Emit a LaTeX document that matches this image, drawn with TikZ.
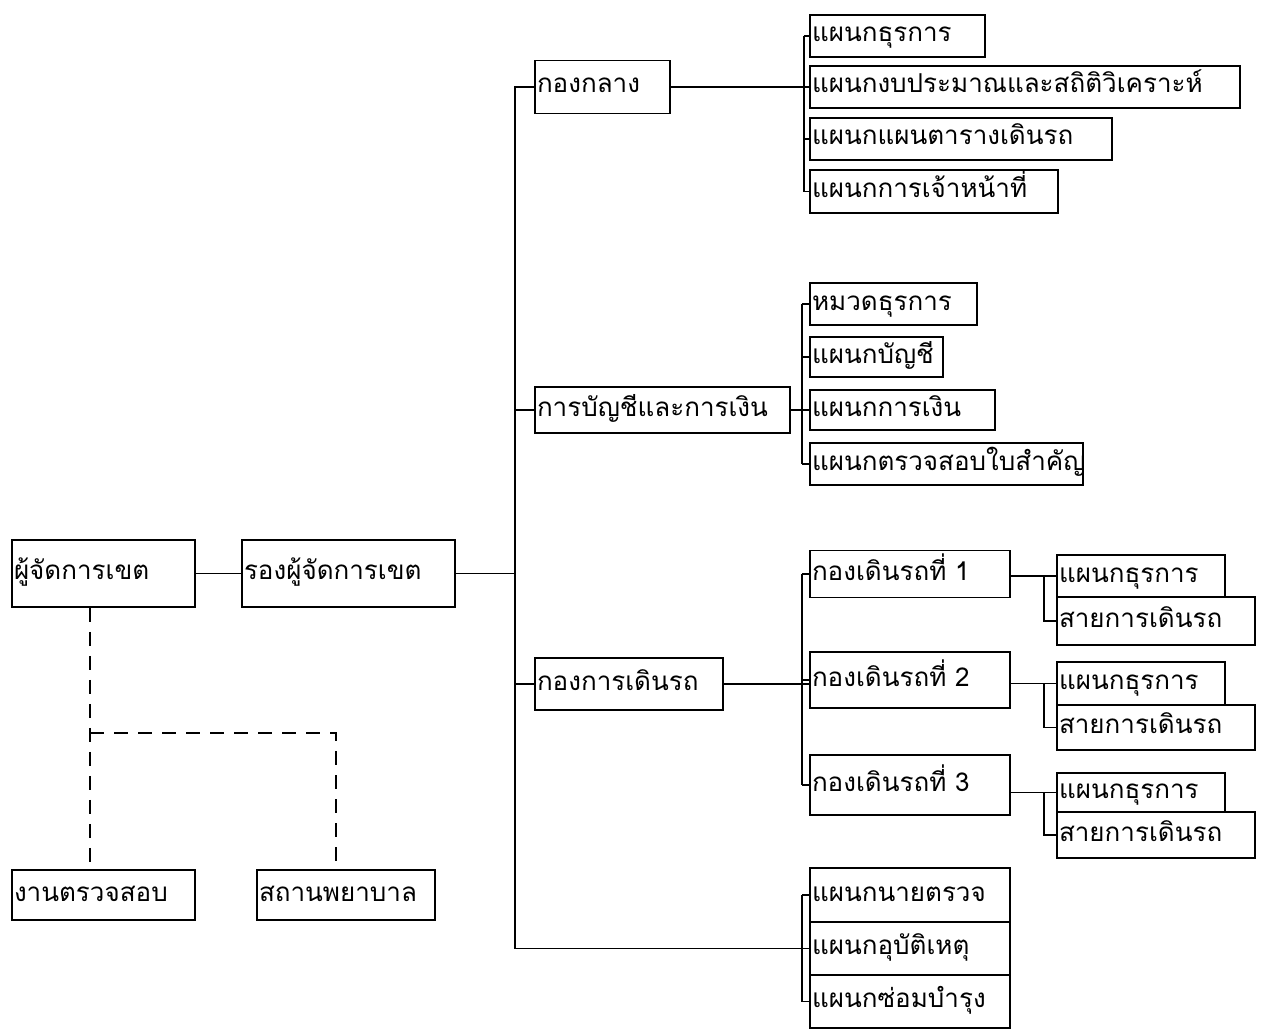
\documentclass[tikz,border=0pt]{standalone}
\usepackage{fontspec}
\newfontfamily\thaifont[Script=Thai]{Loma}
\begin{document}
\begin{tikzpicture}[x=1pt,y=-1pt,
		box/.style={draw, line width=1.6pt, inner xsep=2pt, inner ysep=0pt, align=left, text height=18pt, text depth=6pt, font=\thaifont\fontsize{26}{30}\selectfont},
		link/.style={line width=1.6pt},
		dashlink/.style={line width=1.6pt, dash pattern=on 14pt off 10pt}]
				\useasboundingbox (0,0) rectangle (1269,1030);
				
				\node[box, text width=179pt, minimum height=67pt] (mgr) at (103.5,573.5) {ผู้จัดการเขต};
				\node[box, text width=209pt, minimum height=67pt] (dep) at (348.5,573.5) {รองผู้จัดการเขต};
				\node[box, text width=179pt, minimum height=50pt] (audit) at (103.5,895) {งานตรวจสอบ};
				\node[box, text width=174pt, minimum height=50pt] (clinic) at (346,895) {สถานพยาบาล};
				
				\node[box, text width=131pt, minimum height=53pt] (central) at (602.5,87) {กองกลาง};
				\node[box, text width=171pt, minimum height=42pt] (c1) at (897.5,36) {แผนกธุรการ};
				\node[box, text width=426pt, minimum height=42pt] (c2) at (1025,87) {แผนกงบประมาณและสถิติวิเคราะห์};
				\node[box, text width=298pt, minimum height=42pt] (c3) at (961,139) {แผนกแผนตารางเดินรถ};
				\node[box, text width=244pt, minimum height=43pt] (c4) at (934,191.5) {แผนกการเจ้าหน้าที่};
				
				\node[box, text width=251pt, minimum height=46pt] (acct) at (662.5,410) {การบัญชีและการเงิน};
				\node[box, text width=163pt, minimum height=42pt] (a1) at (893.5,304) {หมวดธุรการ};
				\node[box, text width=129pt, minimum height=40pt] (a2) at (876.5,357) {แผนกบัญชี};
				\node[box, text width=181pt, minimum height=40pt] (a3) at (902.5,410) {แผนกการเงิน};
				\node[box, text width=269pt, minimum height=42pt] (a4) at (946.5,464) {แผนกตรวจสอบใบสำคัญ};
				
				\node[box, text width=184pt, minimum height=52pt] (ops) at (629,684) {กองการเดินรถ};
				\node[box, text width=196pt, minimum height=47pt] (o1) at (910,574) {กองเดินรถที่ 1};
				\node[box, text width=196pt, minimum height=56pt] (o2) at (910,680) {กองเดินรถที่ 2};
				\node[box, text width=196pt, minimum height=60pt] (o3) at (910,785) {กองเดินรถที่ 3};
				
				\node[box, text width=164pt, minimum height=42pt] (s11) at (1141,576) {แผนกธุรการ};
				\node[box, text width=194pt, minimum height=48pt] (s12) at (1156,621) {สายการเดินรถ};
				\node[box, text width=164pt, minimum height=43pt] (s21) at (1141,683.5) {แผนกธุรการ};
				\node[box, text width=194pt, minimum height=45pt] (s22) at (1156,727.5) {สายการเดินรถ};
				\node[box, text width=164pt, minimum height=39pt] (s31) at (1141,792.5) {แผนกธุรการ};
				\node[box, text width=194pt, minimum height=46pt] (s32) at (1156,835) {สายการเดินรถ};
				
				\node[box, text width=196pt, minimum height=54pt] (f1) at (910,895) {แผนกนายตรวจ};
				\node[box, text width=196pt, minimum height=53pt] (f2) at (910,948.5) {แผนกอุบัติเหตุ};
				\node[box, text width=196pt, minimum height=53pt] (f3) at (910,1001.5) {แผนกซ่อมบำรุง};
				
				\coordinate (hub) at (515,573.5);
				\draw[link] (mgr.east) -- (dep.west);
				\draw[link] (dep.east) -- (hub);
				\draw[link] (central.west) -| (hub) |- (f2.west);
				\draw[link] (acct.west) -- (acct.west -| hub);
				\draw[link] (ops.west) -- (ops.west -| hub);
				
				\draw[link] (central.east) -- (c2.west);
				\draw[link] ([xshift=-5pt]c1.west) -- ([xshift=-5pt]c4.west);
				\foreach \n in {c1,c2,c3,c4} \draw[link] (\n.west) -- ++(-5,0);
				
				\draw[link] (acct.east) -- (a3.west);
				\draw[link] ([xshift=-7pt]a1.west) -- ([xshift=-7pt]a4.west);
				\foreach \n in {a1,a2,a3,a4} \draw[link] (\n.west) -- ++(-7,0);
				
				\draw[link] (ops.east) -- (ops.east -| o2.west);
				\draw[link] ([xshift=-7pt]o1.west) -- ([xshift=-7pt]o3.west);
				\foreach \n in {o1,o2,o3} \draw[link] (\n.west) -- ++(-7,0);
				\foreach \n in {1,2,3} {
					\draw[link] (s\n1.west -| o\n.east) -- (s\n1.west);
					\draw[link] ([xshift=-12pt]s\n1.west) |- (s\n2.west);
				}
				
				\draw[link] ([xshift=-7pt]f1.west) -- ([xshift=-7pt]f3.west);
				\foreach \n in {f1,f2,f3} \draw[link] (\n.west) -- ++(-7,0);
				
				\coordinate (dj) at (90,733);
				\coordinate (dk) at (336,733);
				\draw[dashlink] (mgr.south -| dj) -- (audit.north -| dj);
				\draw[dashlink] (dj) -- (dk) -- (dk |- clinic.north);
			\end{tikzpicture}
\end{document}
